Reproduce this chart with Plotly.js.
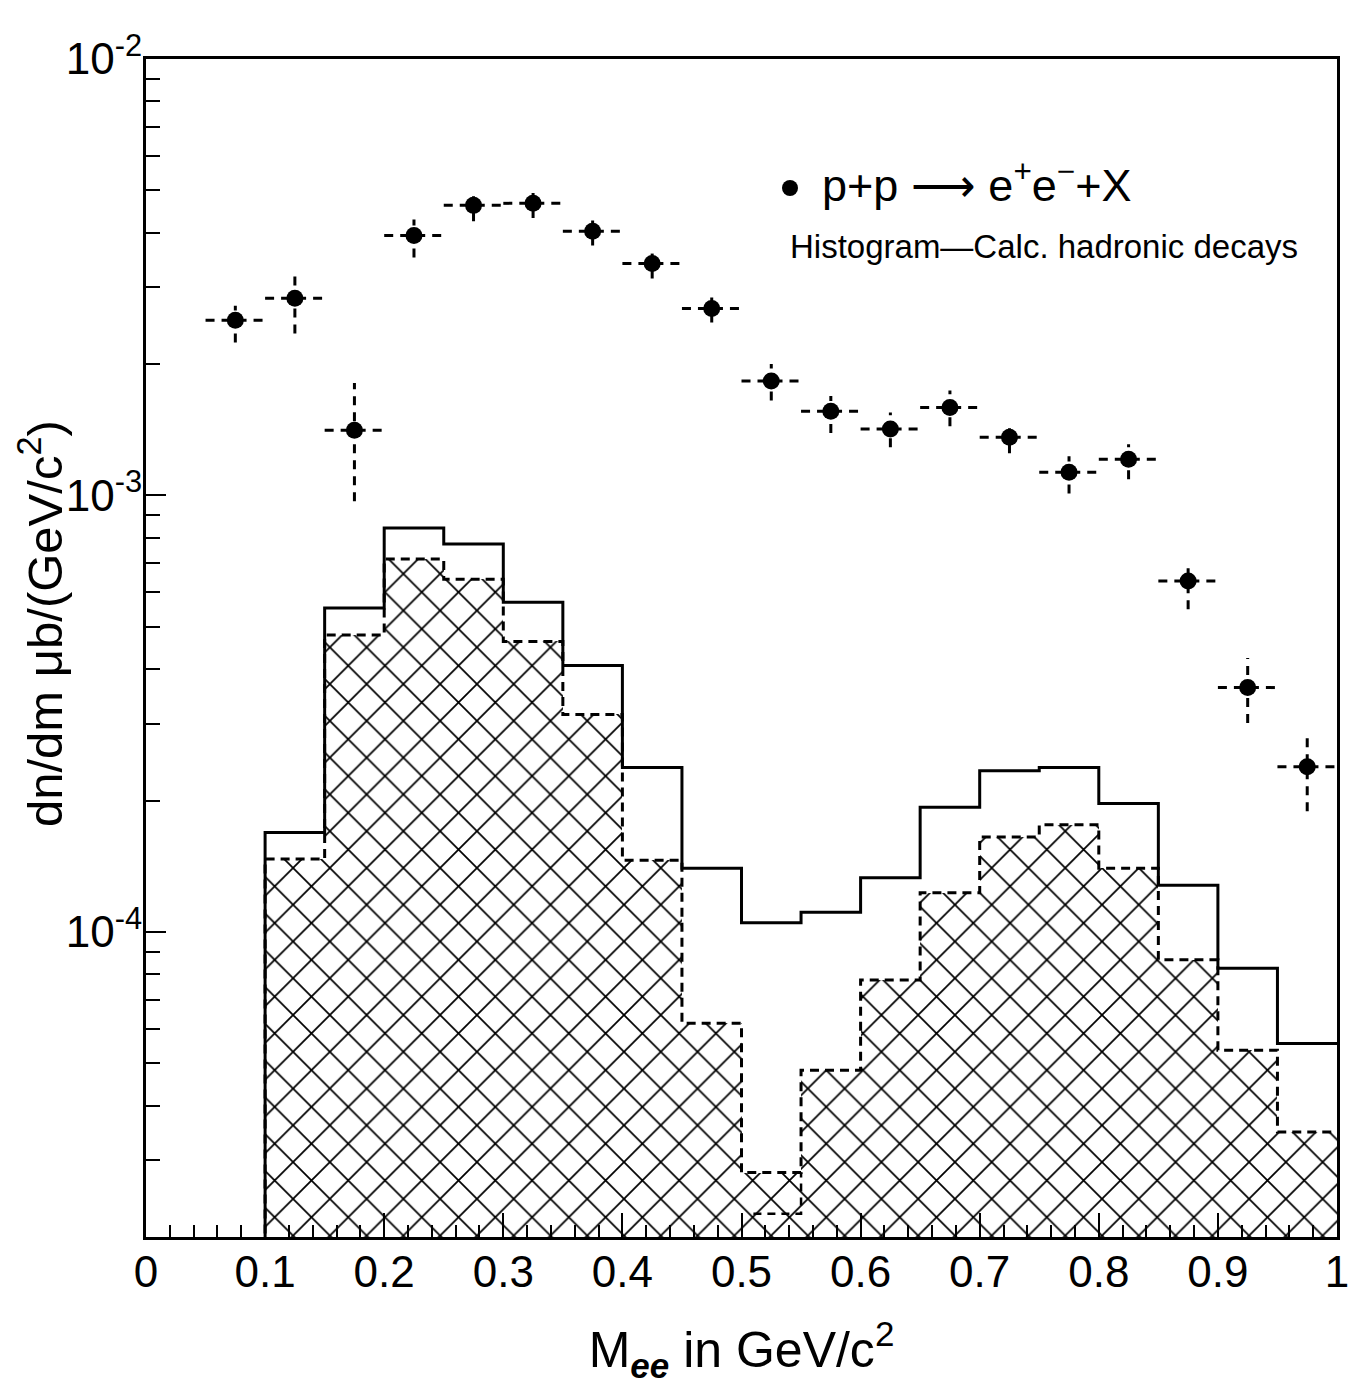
<!DOCTYPE html>
<html><head><meta charset="utf-8">
<script src="https://cdn.plot.ly/plotly-3.0.1.min.js"></script>
<style>html,body{margin:0;padding:0;background:#fff;} #chart{width:1352px;height:1385px;}</style>
</head><body><div id="chart"></div>
<script>
// ---- data ----
const binLow = [0.10,0.15,0.20,0.25,0.30,0.35,0.40,0.45,0.50,0.55,0.60,0.65,0.70,0.75,0.80,0.85,0.90,0.95];
const binWidth = 0.05;
const totalCalc = [1.69e-4,5.52e-4,8.42e-4,7.74e-4,5.69e-4,4.08e-4,2.38e-4,1.40e-4,1.05e-4,1.11e-4,1.33e-4,1.93e-4,2.34e-4,2.38e-4,1.97e-4,1.28e-4,8.26e-5,5.55e-5];
const hatchedCalc = [1.47e-4,4.79e-4,7.15e-4,6.43e-4,4.63e-4,3.15e-4,1.46e-4,6.18e-5,2.81e-5,4.82e-5,7.76e-5,1.23e-4,1.65e-4,1.76e-4,1.40e-4,8.63e-5,5.36e-5,3.48e-5];
const extraX = [0.51,0.55,0.55];
const extraY = [2.26e-5,2.26e-5,2.81e-5];
const dataX = [0.075,0.125,0.175,0.225,0.275,0.325,0.375,0.425,0.475,0.525,0.575,0.625,0.675,0.725,0.775,0.825,0.875,0.925,0.975];
const dataY = [2.52e-3,2.83e-3,1.41e-3,3.94e-3,4.62e-3,4.67e-3,4.03e-3,3.40e-3,2.68e-3,1.83e-3,1.56e-3,1.42e-3,1.59e-3,1.36e-3,1.13e-3,1.21e-3,6.37e-4,3.63e-4,2.39e-4];
const dataHi = [2.72e-3,3.28e-3,1.81e-3,4.29e-3,5.0e-3,5.0e-3,4.34e-3,3.68e-3,2.90e-3,2.0e-3,1.69e-3,1.55e-3,1.74e-3,1.48e-3,1.23e-3,1.31e-3,6.97e-4,4.24e-4,2.83e-4];
const dataLo = [2.24e-3,2.35e-3,0.97e-3,3.51e-3,4.25e-3,4.32e-3,3.74e-3,3.14e-3,2.49e-3,1.65e-3,1.39e-3,1.29e-3,1.44e-3,1.25e-3,1.01e-3,1.09e-3,5.49e-4,3.01e-4,1.89e-4];
const dataXHalf = 0.025;
const xTickVals = [0,0.1,0.2,0.3,0.4,0.5,0.6,0.7,0.8,0.9,1];
const xTickText = ["0","0.1","0.2","0.3","0.4","0.5","0.6","0.7","0.8","0.9","1"];
const yTickVals = [1e-4,1e-3,1e-2];
const yTickText = ["10<sup>-4</sup>","10<sup>-3</sup>","10<sup>-2</sup>"];
const yMin = 2e-5, yMax = 1e-2;

// ---- build traces ----
const FONT = "Liberation Sans, Arial, sans-serif";
function stepTrace(vals, dash, width){
  const xs = [binLow[0]], ys = [yMin/2];
  binLow.forEach((b,i)=>{ xs.push(b); ys.push(vals[i]); });
  xs.push(binLow[binLow.length-1]+binWidth); ys.push(vals[vals.length-1]);
  return {type:'scatter', mode:'lines', x:xs, y:ys, line:{shape:'hv', color:'black', width:width, dash:dash}, hoverinfo:'skip'};
}
const barTrace = {
  type:'bar', x: binLow.map(b=>b+binWidth/2), y: hatchedCalc, width: binWidth,
  marker:{color:'white', line:{width:0}, pattern:{shape:'x', size:26, solidity:0.13, fgcolor:'black', bgcolor:'white', fillmode:'replace'}},
  hoverinfo:'skip'
};
const hx=[], hy=[], vx=[], vy=[];
dataX.forEach((x,i)=>{
  hx.push(x-dataXHalf, x+dataXHalf, null); hy.push(dataY[i], dataY[i], null);
  vx.push(x, x, null); vy.push(dataLo[i], dataHi[i], null);
});
const errH = {type:'scatter', mode:'lines', x:hx, y:hy, line:{color:'black', width:3, dash:'9px,7px'}, hoverinfo:'skip'};
const errV = {type:'scatter', mode:'lines', x:vx, y:vy, line:{color:'black', width:3, dash:'9px,7px'}, hoverinfo:'skip'};
const pts = {type:'scatter', mode:'markers', x:dataX, y:dataY, marker:{color:'black', size:17, symbol:'circle'}, hoverinfo:'skip'};
const extra = {type:'scatter', mode:'lines', x:extraX, y:extraY, line:{color:'black', width:2.5, dash:'8px,6px'}, hoverinfo:'skip'};

// minor log ticks
const yMinor = [];
for (let d=-5; d<=-3; d++) for (let k=2;k<=9;k++){ const v=k*Math.pow(10,d); if (v>=yMin && v<=yMax) yMinor.push(v); }

const W=1352, H=1385, L=146, R=15, T=59, B=148;
const pw = W-L-R, ph = H-T-B;
const px = X => (X-L)/pw, py = Y => (H-B-Y)/ph;

const layout = {
  width:W, height:H, margin:{l:L, r:R, t:T, b:B, pad:0},
  paper_bgcolor:'white', plot_bgcolor:'white', showlegend:false,
  barmode:'overlay', bargap:0,
  font:{family:FONT, color:'black'},
  xaxis:{range:[0,1], tickmode:'array', tickvals:xTickVals, ticktext:xTickText,
    ticks:'inside', ticklen:24, tickwidth:2, tickcolor:'black',
    minor:{dtick:0.02, tick0:0, ticks:'inside', ticklen:12, tickwidth:2, tickcolor:'black'},
    showline:true, linewidth:3, linecolor:'black', mirror:true, showgrid:false, zeroline:false,
    tickfont:{size:44, family:FONT}, ticklabelstandoff:-6,
    title:{text:'M<sub><b><i>ee</i></b></sub> in GeV/c<sup>2</sup>', font:{size:50, family:FONT}, standoff:38}},
  yaxis:{type:'log', range:[Math.log10(yMin), Math.log10(yMax)], tickmode:'array', tickvals:yTickVals, ticktext:yTickText,
    ticks:'inside', ticklen:20, tickwidth:2, tickcolor:'black',
    minor:{tickmode:'array', tickvals:yMinor, ticks:'inside', ticklen:14, tickwidth:2, tickcolor:'black'},
    showline:true, linewidth:3, linecolor:'black', mirror:true, showgrid:false, zeroline:false,
    tickfont:{size:44, family:FONT}, ticklabelstandoff:-8},
  annotations:[
    {xref:'paper', yref:'paper', x:px(41), y:py(624), xanchor:'center', yanchor:'middle', textangle:-90, showarrow:false,
     text:'dn/dm \u03bcb/(GeV/c<sup>2</sup>)', font:{size:49, family:FONT}},
    {xref:'paper', yref:'paper', x:px(820), y:py(182), xanchor:'left', yanchor:'middle', showarrow:false,
     text:'p+p \u27f6 e<sup>+</sup>e<sup>\u2212</sup>+X', font:{size:45, family:FONT}},
    {xref:'paper', yref:'paper', x:px(788), y:py(247), xanchor:'left', yanchor:'middle', showarrow:false,
     text:'Histogram\u2014Calc. hadronic decays', font:{size:33, family:FONT}}
  ],
  shapes:[
    {type:'circle', xref:'paper', yref:'paper', xsizemode:'pixel', ysizemode:'pixel', xanchor:px(790), yanchor:py(188),
     x0:-8, x1:8, y0:-8, y1:8, fillcolor:'black', line:{width:0}}
  ]
};
Plotly.newPlot('chart', [barTrace, stepTrace(hatchedCalc,'9px,6px',3), stepTrace(totalCalc,'solid',3), extra, errH, errV, pts], layout, {staticPlot:true});
</script></body></html>
